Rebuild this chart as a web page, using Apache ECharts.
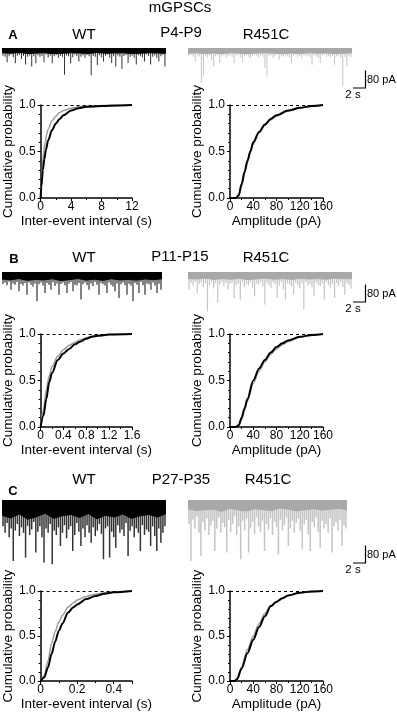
<!DOCTYPE html>
<html>
<head>
<meta charset="utf-8">
<script src="https://cdn.jsdelivr.net/npm/echarts@6/dist/echarts.min.js"></script>
<style>
  html, body { margin: 0; padding: 0; background: #fff; }
  #main { width: 397px; height: 712px; }
</style>
</head>
<body>
<div id="main"></div>
<script>
// spike depth (pA) per slot from left to right
const spikesWtA = [
  35, 40, 65, 38, 30, 42, 70, 35, 32, 50, 36, 75, 40, 34, 85, 38, 70, 33, 40, 36,
  65, 30, 44, 35, 70, 38, 32, 45, 36, 40, 122, 34, 38, 70, 42, 30, 36, 62, 40, 34,
  45, 32, 38, 125, 36, 40, 78, 33, 42, 62, 35, 30, 44, 68, 38, 85, 34, 40, 95, 36,
  32, 68, 40, 35, 44, 75, 33, 38, 42, 62, 30, 36, 75, 40, 34, 45, 62, 38, 32, 85]
const spikesR4A = [
  35, 30, 40, 62, 34, 38, 160, 130, 36, 42, 32, 55, 84, 38, 34, 69, 40, 30, 45, 36,
  33, 40, 69, 35, 30, 42, 62, 36, 33, 40, 48, 34, 30, 38, 44, 35, 40, 90, 130, 36,
  32, 44, 38, 30, 52, 36, 40, 33, 38, 45, 69, 34, 30, 40, 36, 44, 32, 38, 35, 42,
  76, 33, 38, 45, 69, 34, 30, 40, 36, 42, 35, 76, 38, 33, 44, 175, 40, 84, 36, 42]
const spikesWtB = [
  55, 48, 60, 45, 81, 52, 58, 46, 88, 55, 62, 50, 104, 48, 58, 66, 52, 134, 56, 48,
  62, 96, 50, 58, 81, 46, 64, 52, 104, 55, 48, 60, 96, 54, 46, 88, 58, 62, 50, 126,
  56, 48, 60, 81, 52, 64, 46, 58, 104, 50, 56, 62, 96, 48, 58, 66, 88, 52, 119, 56,
  48, 60, 104, 54, 62, 134, 50, 58, 96, 46, 60, 104, 52, 56, 81, 48, 62, 96, 54, 81]
const spikesR4B = [
  81, 50, 62, 45, 96, 55, 48, 70, 52, 180, 60, 46, 75, 52, 141, 58, 44, 66, 50, 80,
  55, 48, 119, 60, 52, 126, 46, 70, 55, 62, 48, 75, 111, 52, 58, 44, 66, 149, 50, 60,
  72, 48, 56, 119, 62, 46, 80, 126, 52, 58, 66, 104, 48, 60, 75, 52, 172, 46, 62, 55,
  70, 111, 48, 58, 64, 52, 126, 46, 60, 72, 55, 119, 50, 62, 46, 68, 104, 52, 60, 75]
const spikesWtC = [
  120, 150, 105, 170, 130, 279, 140, 110, 165, 125, 150, 263, 118, 160, 135, 100, 240, 145, 120, 170,
  286, 130, 150, 110, 294, 140, 160, 125, 210, 150, 115, 175, 135, 120, 233, 160, 105, 145, 210, 130,
  170, 115, 150, 195, 125, 165, 140, 110, 155, 271, 130, 120, 263, 145, 170, 218, 115, 150, 135, 165,
  105, 256, 140, 120, 170, 130, 150, 233, 115, 160, 135, 145, 210, 120, 165, 233, 130, 195, 150, 120]
const spikesR4C = [
  110, 279, 90, 130, 75, 150, 256, 100, 140, 85, 160, 115, 95, 233, 130, 80, 150, 105, 125, 240,
  90, 145, 110, 75, 160, 120, 271, 95, 140, 85, 240, 130, 100, 155, 80, 120, 145, 95, 233, 110,
  135, 85, 160, 100, 125, 248, 90, 140, 115, 80, 210, 130, 95, 150, 105, 85, 140, 225, 110, 90,
  155, 233, 100, 125, 80, 145, 218, 95, 130, 110, 150, 85, 240, 120, 100, 140, 90, 210, 115, 130]

// depth of the solid noise band (pA), 20 steps across each trace
const bandWtA = [22, 24, 21, 25, 23, 22, 26, 24, 22, 23, 25, 21, 24, 23, 22, 25, 24, 22, 23, 24]
const bandR4A = [24, 22, 25, 23, 26, 22, 24, 25, 23, 22, 24, 26, 23, 25, 22, 24, 23, 25, 24, 22]
const bandWtB = [32, 36, 30, 38, 34, 36, 31, 39, 35, 30, 37, 33, 38, 31, 36, 34, 37, 32, 35, 31]
const bandR4B = [30, 32, 28, 34, 30, 33, 29, 35, 31, 28, 33, 30, 34, 29, 32, 30, 33, 28, 31, 30]
const bandWtC = [70, 82, 64, 88, 76, 60, 84, 72, 66, 80, 62, 86, 70, 78, 64, 84, 72, 66, 78, 62]
const bandR4C = [40, 48, 44, 42, 52, 38, 46, 50, 40, 44, 48, 36, 42, 50, 44, 40, 46, 42, 38, 44]

// cumulative distributions
const ieiXWtA = [0, 0.1, 0.3, 0.5, 0.7, 1.0, 1.5, 2.0, 2.5, 3.0, 4.0, 5.0, 6.0, 8.0, 10, 12]
const ieiYWtA = [0, 0.12, 0.3, 0.42, 0.52, 0.62, 0.73, 0.8, 0.85, 0.89, 0.94, 0.965, 0.98, 0.99, 0.995, 1.0]
const ieiXR4A = [0, 0.1, 0.2, 0.4, 0.6, 0.8, 1.0, 1.5, 2.0, 2.5, 3.0, 4.0, 5.0, 6.0, 8.0, 12]
const ieiYR4A = [0, 0.15, 0.3, 0.48, 0.6, 0.68, 0.74, 0.83, 0.88, 0.92, 0.94, 0.965, 0.98, 0.985, 0.995, 1.0]

const ampXA = [0, 10, 15, 20, 25, 30, 35, 40, 50, 60, 70, 80, 100, 120, 140, 160]
const ampYWtA = [0, 0, 0.03, 0.15, 0.28, 0.4, 0.5, 0.6, 0.71, 0.79, 0.85, 0.89, 0.94, 0.97, 0.99, 1.0]
const ampYR4A = [0, 0, 0.02, 0.13, 0.26, 0.38, 0.49, 0.58, 0.7, 0.78, 0.84, 0.88, 0.935, 0.965, 0.985, 1.0]

const ieiXB = [0, 0.05, 0.1, 0.15, 0.2, 0.3, 0.4, 0.5, 0.6, 0.7, 0.8, 0.9, 1.0, 1.2, 1.6]
const ieiYWtB = [0, 0.12, 0.3, 0.48, 0.58, 0.72, 0.79, 0.84, 0.89, 0.92, 0.95, 0.97, 0.98, 0.995, 1.0]
const ieiYR4B = [0, 0.18, 0.4, 0.55, 0.65, 0.76, 0.83, 0.88, 0.91, 0.94, 0.96, 0.975, 0.985, 0.995, 1.0]

const ampXB = [0, 10, 15, 20, 25, 30, 40, 50, 60, 70, 80, 90, 100, 120, 140, 160]
const ampYWtB = [0, 0, 0.02, 0.1, 0.2, 0.3, 0.5, 0.63, 0.72, 0.8, 0.86, 0.9, 0.93, 0.97, 0.99, 1.0]
const ampYR4B = [0, 0, 0.015, 0.08, 0.18, 0.28, 0.47, 0.6, 0.7, 0.78, 0.84, 0.885, 0.92, 0.965, 0.985, 1.0]

const ieiXC = [0, 0.02, 0.04, 0.06, 0.08, 0.1, 0.12, 0.15, 0.18, 0.2, 0.25, 0.3, 0.35, 0.4, 0.5]
const ieiYWtC = [0, 0.04, 0.15, 0.3, 0.44, 0.56, 0.64, 0.76, 0.82, 0.85, 0.91, 0.945, 0.97, 0.985, 1.0]
const ieiYR4C = [0, 0.06, 0.22, 0.42, 0.55, 0.66, 0.73, 0.82, 0.87, 0.9, 0.94, 0.965, 0.98, 0.99, 1.0]

const ampXC = [0, 8, 12, 20, 30, 40, 50, 60, 70, 80, 90, 100, 120, 140, 160]
const ampYWtC = [0, 0, 0.02, 0.14, 0.31, 0.46, 0.6, 0.72, 0.83, 0.88, 0.92, 0.95, 0.98, 0.995, 1.0]
const ampYR4C = [0, 0, 0.02, 0.16, 0.35, 0.5, 0.64, 0.75, 0.84, 0.88, 0.92, 0.95, 0.98, 0.995, 1.0]

const FONT = '"Liberation Sans", Arial, Helvetica, sans-serif'
const WT_COLOR = '#000'
const R4_COLOR = '#9a9a9a'

function zip (xs, ys) {
  return xs.map((x, i) => [x, ys[i]])
}

let traceBoxes = [
  { left: 2, top: 48, width: 164, spikes: spikesWtA, band: bandWtA, wt: true, barWidth: 1 },
  { left: 188, top: 48, width: 164, spikes: spikesR4A, band: bandR4A, wt: false, barWidth: 1 },
  { left: 2, top: 272, width: 160, spikes: spikesWtB, band: bandWtB, wt: true, barWidth: 1.2 },
  { left: 188, top: 272, width: 164, spikes: spikesR4B, band: bandR4B, wt: false, barWidth: 1.2 },
  { left: 2, top: 500, width: 164, spikes: spikesWtC, band: bandWtC, wt: true, barWidth: 1.5 },
  { left: 188, top: 500, width: 159, spikes: spikesR4C, band: bandR4C, wt: false, barWidth: 1.5 }
]

let cdfBoxes = [
  { left: 39, top: 105, max: 12, interval: 4, name: 'Inter-event interval (s)', wt: zip(ieiXWtA, ieiYWtA), r4: zip(ieiXR4A, ieiYR4A) },
  { left: 230, top: 105, max: 160, interval: 40, name: 'Amplitude (pA)', wt: zip(ampXA, ampYWtA), r4: zip(ampXA, ampYR4A) },
  { left: 39, top: 334, max: 1.6, interval: 0.4, name: 'Inter-event interval (s)', wt: zip(ieiXB, ieiYWtB), r4: zip(ieiXB, ieiYR4B) },
  { left: 230, top: 334, max: 160, interval: 40, name: 'Amplitude (pA)', wt: zip(ampXB, ampYWtB), r4: zip(ampXB, ampYR4B) },
  { left: 39, top: 591, max: 0.5, interval: 0.2, hideMax: true, name: 'Inter-event interval (s)', wt: zip(ieiXC, ieiYWtC), r4: zip(ieiXC, ieiYR4C) },
  { left: 230, top: 591, max: 160, interval: 40, name: 'Amplitude (pA)', wt: zip(ampXC, ampYWtC), r4: zip(ampXC, ampYR4C) }
]

let grid = []
let xAxis = []
let yAxis = []
let series = []

traceBoxes.forEach(t => {
  let gi = grid.length
  grid.push({ left: t.left, top: t.top, width: t.width, height: 70 })
  let xi = xAxis.length
  xAxis.push({ type: 'category', gridIndex: gi, show: false, data: t.spikes.map((v, i) => i) })
  xAxis.push({ type: 'category', gridIndex: gi, show: false, boundaryGap: false, data: t.band.map((v, i) => i) })
  let yi = yAxis.length
  yAxis.push({ type: 'value', gridIndex: gi, show: false, min: -320, max: 0 })
  series.push({
    type: 'bar',
    xAxisIndex: xi,
    yAxisIndex: yi,
    barWidth: t.barWidth,
    silent: true,
    itemStyle: { color: t.wt ? '#333' : '#c4c4c4' },
    data: t.spikes.map(v => -v)
  })
  let bandColor = t.wt ? '#000' : '#a8a8a8'
  series.push({
    type: 'line',
    xAxisIndex: xi + 1,
    yAxisIndex: yi,
    symbol: 'none',
    silent: true,
    lineStyle: { width: 1, color: bandColor },
    areaStyle: { color: bandColor, opacity: 1 },
    data: t.band.map(v => -v)
  })
})

cdfBoxes.forEach(c => {
  let gi = grid.length
  grid.push({ left: c.left, top: c.top, width: 93, height: 93 })
  let xi = xAxis.length
  xAxis.push({
    type: 'value',
    gridIndex: gi,
    min: 0,
    max: c.max,
    interval: c.interval,
    name: c.name,
    nameLocation: 'middle',
    nameGap: 13,
    nameTextStyle: { fontSize: 13.5, color: '#000', fontFamily: FONT },
    axisLine: { lineStyle: { color: '#000', width: 1.5 } },
    axisTick: { length: 3, lineStyle: { color: '#000' } },
    minorTick: { show: true, splitNumber: 2, length: 2, lineStyle: { color: '#000' } },
    axisLabel: { fontSize: 12, color: '#000', fontFamily: FONT, margin: 3, showMaxLabel: !c.hideMax },
    splitLine: { show: false }
  })
  let yi = yAxis.length
  yAxis.push({
    type: 'value',
    gridIndex: gi,
    min: 0,
    max: 1,
    interval: 0.5,
    name: 'Cumulative probability',
    nameLocation: 'middle',
    nameGap: 24,
    nameTextStyle: { fontSize: 13.5, color: '#000', fontFamily: FONT },
    axisLine: { show: true, lineStyle: { color: '#000', width: 1.5 } },
    axisTick: { show: true, length: 3, lineStyle: { color: '#000' } },
    minorTick: { show: true, splitNumber: 5, length: 2, lineStyle: { color: '#000' } },
    axisLabel: { fontSize: 12, color: '#000', fontFamily: FONT, margin: 5, formatter: v => v.toFixed(1) },
    splitLine: { show: false }
  })
  series.push({
    name: 'R451C',
    type: 'line',
    xAxisIndex: xi,
    yAxisIndex: yi,
    symbol: 'none',
    smooth: 0.3,
    smoothMonotone: 'x',
    lineStyle: { color: R4_COLOR, width: 1.5 },
    data: c.r4
  })
  series.push({
    name: 'WT',
    type: 'line',
    xAxisIndex: xi,
    yAxisIndex: yi,
    symbol: 'none',
    smooth: 0.3,
    smoothMonotone: 'x',
    lineStyle: { color: WT_COLOR, width: 2 },
    data: c.wt,
    markLine: {
      silent: true,
      symbol: 'none',
      label: { show: false },
      lineStyle: { color: '#000', type: [3, 3], width: 1 },
      data: [{ yAxis: 1 }]
    }
  })
})

// titles and panel letters
let texts = [
  ['mGPSCs', 180, 8, 15, 'normal'],
  ['A', 13, 35, 13, 'bold'], ['WT', 84, 35, 15, 'normal'], ['P4-P9', 181, 33, 15, 'normal'], ['R451C', 266, 35, 15, 'normal'],
  ['B', 14, 259, 13, 'bold'], ['WT', 84, 258, 15, 'normal'], ['P11-P15', 180, 257, 15, 'normal'], ['R451C', 266, 258, 15, 'normal'],
  ['C', 13, 491, 13, 'bold'], ['WT', 84, 480, 15, 'normal'], ['P27-P35', 181, 480, 15, 'normal'], ['R451C', 268, 480, 15, 'normal']
]
let graphic = texts.map(t => ({
  type: 'text',
  x: t[1],
  y: t[2],
  style: { text: t[0], fontSize: t[3], fontWeight: t[4], fontFamily: FONT, fill: '#000', align: 'center', verticalAlign: 'middle' }
}))

// scale bars: 80 pA tall, 2 s wide
;[88, 302, 563].forEach(yb => {
  graphic.push({ type: 'polyline', shape: { points: [[353, yb], [365.5, yb], [365.5, yb - 17.5]] }, style: { stroke: '#000', lineWidth: 1.2, fill: null } })
  graphic.push({ type: 'text', x: 367, y: yb - 8, style: { text: '80 pA', fontSize: 11, fontFamily: FONT, fill: '#000', verticalAlign: 'middle' } })
  graphic.push({ type: 'text', x: 353, y: yb + 7, style: { text: '2 s', fontSize: 11.5, fontFamily: FONT, fill: '#000', align: 'center', verticalAlign: 'middle' } })
})

let myChart = echarts.init(document.getElementById('main'))
let option = {
  animation: false,
  backgroundColor: '#fff',
  grid: grid,
  xAxis: xAxis,
  yAxis: yAxis,
  series: series,
  graphic: graphic
}
myChart.setOption(option)
</script>
</body>
</html>
